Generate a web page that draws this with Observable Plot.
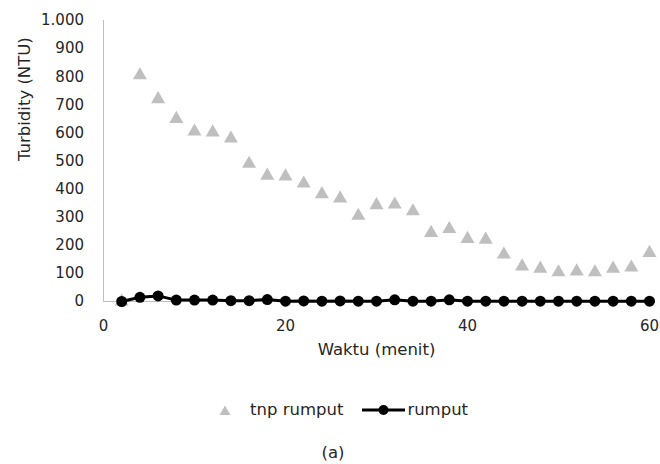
<!DOCTYPE html>
<html>
<head>
<meta charset="utf-8">
<script src="https://cdn.jsdelivr.net/npm/d3@7"></script>
<script src="https://cdn.jsdelivr.net/npm/@observablehq/plot@0.6"></script>
<style>
  body { margin: 0; background: #fff; font-family: "DejaVu Sans", sans-serif; }
  #wrap { width: 660px; height: 464px; position: relative; overflow: hidden; }
  .legend { position: absolute; top: 400px; left: 218px; display: flex; align-items: center; font-size: 16.5px; line-height: 19px; color: #262626; white-space: nowrap; }
  .legend span { display: inline-flex; align-items: center; }
  .caption { position: absolute; top: 443px; left: 0; width: 660px; text-align: center; font-size: 16.5px; line-height: 19px; color: #262626; padding-left: 6px; box-sizing: border-box; }
</style>
</head>
<body>
<div id="wrap"></div>
<script>
const waktu = [2,4,6,8,10,12,14,16,18,20,22,24,26,28,30,32,34,36,38,40,42,44,46,48,50,52,54,56,58,60];
const tnpRumput = [0,805,720,650,605,602,580,490,448,445,420,382,367,305,343,345,321,244,258,223,220,167,125,117,104,107,104,117,121,173];
const rumput = [0,15,20,5,5,5,3,3,7,1,2,1,2,1,1,6,1,1,6,1,1,1,1,1,1,1,1,1,1,1];
const yTicks = [0,100,200,300,400,500,600,700,800,900,1000];
const xTicks = [0,20,40,60];
const seriesNames = ["tnp rumput", "rumput"];
const xLabel = "Waktu (menit)";
const yLabel = "Turbidity (NTU)";

const dataA = waktu.map((x, i) => ({x, y: tnpRumput[i]}));
const dataB = waktu.map((x, i) => ({x, y: rumput[i]}));

const fmt = d => d3.format(",")(d).replace(/,/g, ".");

const chart = Plot.plot({
  width: 660,
  height: 381,
  marginLeft: 103,
  marginRight: 11,
  marginTop: 20,
  marginBottom: 80,
  style: { fontFamily: "DejaVu Sans, sans-serif", fontSize: "15px", color: "#262626", background: "#fff" },
  x: { domain: [0, 60] },
  y: { domain: [0, 1000] },
  marks: [
    Plot.ruleX([0], { stroke: "#bfbfbf" }),
    Plot.ruleY([0], { stroke: "#bfbfbf" }),
    Plot.axisY({ ticks: yTicks, tickSize: 0, tickPadding: 19.5, tickFormat: fmt, fontSize: 15, label: null }),
    Plot.axisX({ ticks: xTicks, tickSize: 0, tickPadding: 19, fontSize: 15, label: null }),
    Plot.text([xLabel], { frameAnchor: "bottom", text: d => d, dy: 53, fontSize: 16.5, fill: "#262626" }),
    Plot.text([yLabel], { frameAnchor: "left", text: d => d, dx: -79, rotate: -90, fontSize: 16.5, fill: "#262626" }),
    Plot.dot(dataA, { x: "x", y: "y", symbol: "triangle", r: 5.2, fill: "#bfbfbf" }),
    Plot.line(dataB, { x: "x", y: "y", stroke: "#000", strokeWidth: 3 }),
    Plot.dot(dataB, { x: "x", y: "y", r: 5.5, fill: "#000" })
  ]
});
const wrap = document.getElementById("wrap");
wrap.appendChild(chart);

const legend = document.createElement("div");
legend.className = "legend";
legend.innerHTML = `
  <span><svg width="14" height="14" style="margin-right:18px"><path d="M7,2.5 L12.5,12 L1.5,12 Z" fill="#bfbfbf"/></svg>${seriesNames[0]}</span>
  <span style="margin-left:19px"><svg width="44" height="14" style="margin-right:1px"><line x1="0" x2="43" y1="7" y2="7" stroke="#000" stroke-width="3"/><circle cx="21.5" cy="7" r="5" fill="#000"/></svg>${seriesNames[1]}</span>`;
wrap.appendChild(legend);

const cap = document.createElement("div");
cap.className = "caption";
cap.textContent = "(a)";
wrap.appendChild(cap);
</script>
</body>
</html>
